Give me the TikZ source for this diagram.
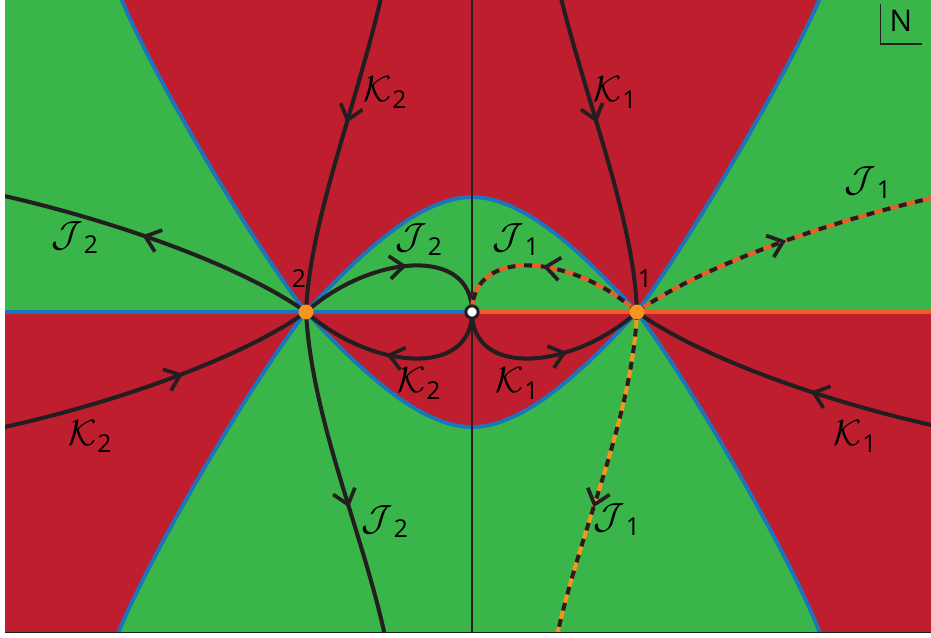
\documentclass[tikz,border=0pt]{standalone}
\usepackage{fontspec}
\setsansfont{Open Sans}
\usetikzlibrary{arrows.meta,decorations.markings}

\definecolor{regiongreen}{RGB}{57,181,74}
\definecolor{regionred}{RGB}{190,30,45}
\definecolor{sepblue}{RGB}{28,117,188}
\definecolor{saddleorange}{RGB}{247,148,29}
\definecolor{fireorange}{RGB}{241,90,41}
\definecolor{ink}{RGB}{35,31,32}

\newcommand{\curvelabel}[2]{{\fontsize{20}{20}\selectfont$\mathcal{#1}$}\kern0.3pt\raisebox{-4pt}{\fontsize{14}{14}\selectfont\sffamily #2}}

\tikzset{
  flow/.style={draw=ink, line width=2.3pt},
  flowarrow/.style={postaction={decorate, decoration={markings,
      mark=at position #1 with {\arrow[ink, line width=2.1pt]{Straight Barb[length=8pt, width=13pt]}}}}},
  dashflow/.style={draw=#1, line width=2.3pt,
      postaction={draw=ink, line width=2.3pt, dash pattern=on 4.5pt off 5pt}},
  boundary/.style={draw=sepblue, line width=2.2pt},
  saddle/.style={circle, fill=saddleorange, inner sep=0pt, minimum size=8.5pt},
  lbl/.style={inner sep=0pt},
}

\begin{document}
\begin{tikzpicture}[x=0.02cm, y=-0.02cm]
\useasboundingbox (0,0) rectangle (931,638);

\coordinate (p2) at (306,312);
\coordinate (p1) at (637,312);
\coordinate (o) at (472,312);

\begin{scope}
  \clip (5,0) rectangle (931,632);
  % regions
  \fill[regiongreen] (0,0) rectangle (940,640);
  \fill[regionred] (p2) .. controls (250,240) and (150,70) .. (121,-2) -- (820,-2)
     .. controls (790,70) and (690,240) .. (p1)
     .. controls (584,254) and (524,197) .. (472,197)
     .. controls (420,197) and (360,254) .. (p2) -- cycle;
  \fill[regionred] (0,312) -- (p2) .. controls (250,384) and (148,558) .. (117,636) -- (0,636) -- cycle;
  \fill[regionred] (p1) .. controls (690,384) and (792,558) .. (821,636) -- (940,636) -- (940,312) -- cycle;
  \fill[regionred] (p2) .. controls (360,370) and (420,427) .. (472,427)
     .. controls (524,427) and (584,370) .. (p1) -- cycle;

  % separatrices
  \draw[boundary] (p2) .. controls (250,240) and (150,70) .. (121,-2);
  \draw[boundary] (p1) .. controls (690,240) and (790,70) .. (820,-2);
  \draw[boundary] (p2) .. controls (250,384) and (148,558) .. (117,636);
  \draw[boundary] (p1) .. controls (690,384) and (792,558) .. (821,636);
  \draw[boundary] (p2) .. controls (360,254) and (420,197) .. (472,197)
     .. controls (524,197) and (584,254) .. (p1);
  \draw[boundary] (p2) .. controls (360,370) and (420,427) .. (472,427)
     .. controls (524,427) and (584,370) .. (p1);
  \draw[boundary] (0,312) -- (o);
  \draw[fireorange, line width=2.3pt] (o) -- (940,312);

  \draw[ink, line width=1.1pt] (472,-2) -- (472,636);

  % flows at saddle 2
  \draw[flow, flowarrow=0.4] (381,-2) .. controls (355,110) and (310,220) .. (p2);
  \draw[flow, flowarrow=0.6] (p2) .. controls (312,420) and (362,530) .. (385,636);
  \draw[flow, flowarrow=0.55] (p2) .. controls (245,268) and (120,222) .. (0,195);
  \draw[flow, flowarrow=0.58] (0,428) .. controls (120,402) and (245,356) .. (p2);
  \draw[flow, flowarrow=0.55] (p2) .. controls (370,255) and (472,245) .. (o);
  \draw[flow, flowarrow=0.55] (o) .. controls (472,379) and (370,369) .. (p2);

  % flows at saddle 1
  \draw[flow, flowarrow=0.4] (561,-2) .. controls (589,110) and (634,220) .. (p1);
  \draw[flowarrow=0.6, dashflow=saddleorange] (p1) .. controls (632,420) and (580,530) .. (557,636);
  \draw[flowarrow=0.5, dashflow=fireorange] (p1) .. controls (698,268) and (823,222) .. (945,195);
  \draw[flow, flowarrow=0.42] (945,428) .. controls (823,402) and (698,356) .. (p1);
  \draw[flowarrow=0.52, dashflow=fireorange] (p1) .. controls (574,255) and (472,245) .. (o);
  \draw[flow, flowarrow=0.6] (o) .. controls (472,379) and (574,369) .. (p1);
\end{scope}

\draw[ink, line width=0.9pt] (5,632.5) -- (931,632.5);

% critical points
\node[saddle] (s2) at (p2) {};
\node[saddle] (s1) at (p1) {};
\node[circle, fill=white, draw=ink, line width=1.7pt, inner sep=0pt, minimum size=7pt] (pole) at (o) {};
\node[lbl, font=\fontsize{14}{14}\selectfont\sffamily] (n2) at (299,279) {2};
\node[lbl, font=\fontsize{14}{14}\selectfont\sffamily] (n1) at (645,279) {1};

% labels
\node[lbl] (lk2top) at (385,93) {\curvelabel{K}{2}};
\node[lbl] (lk1top) at (615,93) {\curvelabel{K}{1}};
\node[lbl] (lj2left) at (75,238) {\curvelabel{J}{2}};
\node[lbl] (lj2in) at (419,240) {\curvelabel{J}{2}};
\node[lbl] (lj1in) at (516,240) {\curvelabel{J}{1}};
\node[lbl] (lj1right) at (868,183) {\curvelabel{J}{1}};
\node[lbl] (lk2in) at (419,384) {\curvelabel{K}{2}};
\node[lbl] (lk1in) at (517,384) {\curvelabel{K}{1}};
\node[lbl] (lk2left) at (90,437) {\curvelabel{K}{2}};
\node[lbl] (lk1right) at (855,437) {\curvelabel{K}{1}};
\node[lbl] (lj2low) at (385,522) {\curvelabel{J}{2}};
\node[lbl] (lj1low) at (617,520) {\curvelabel{J}{1}};

% north mark
\draw[ink, line width=0.9pt] (880.5,4) -- (880.5,44) -- (921.5,44);
\node[lbl, font=\fontsize{17}{17}\selectfont\sffamily] (north) at (901,21) {N};
\end{tikzpicture}
\end{document}
